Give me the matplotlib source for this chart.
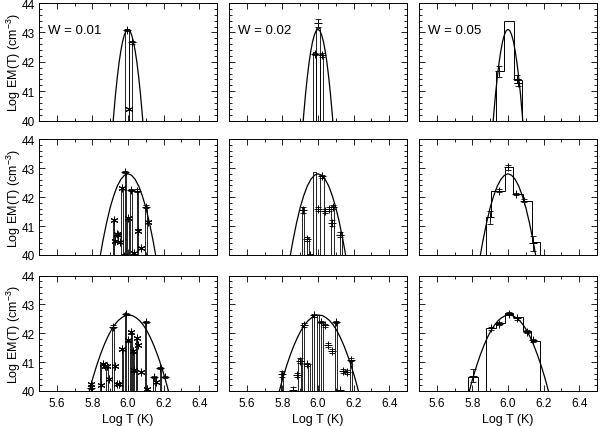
import numpy as np
import matplotlib.pyplot as plt

plt.rcParams['font.family'] = ['Liberation Sans', 'DejaVu Sans']
plt.rcParams['mathtext.default'] = 'regular'

# --- model curve of each row ---
row1_T = [5.917, 5.92, 5.93, 5.94, 5.95, 5.96, 5.97, 5.98, 5.99, 6.00,
          6.01, 6.02, 6.03, 6.04, 6.05, 6.06, 6.07, 6.08, 6.083]
row1_em = [40.00, 40.22, 40.90, 41.48, 41.98, 42.38, 42.70, 42.92, 43.06, 43.10,
           43.06, 42.92, 42.70, 42.38, 41.98, 41.48, 40.90, 40.22, 40.00]
row2_T = [5.845, 5.85, 5.86, 5.88, 5.90, 5.92, 5.94, 5.96, 5.98, 6.00,
          6.02, 6.04, 6.06, 6.08, 6.10, 6.12, 6.14, 6.15, 6.155]
row2_em = [40.00, 40.18, 40.52, 41.12, 41.64, 42.05, 42.38, 42.61, 42.75, 42.80,
           42.75, 42.61, 42.38, 42.05, 41.64, 41.12, 40.52, 40.18, 40.00]
row3_T = [5.783, 5.795, 5.805, 5.825, 5.845, 5.865, 5.885, 5.905, 5.925, 5.945,
          5.965, 5.985, 6.005, 6.025, 6.045, 6.065, 6.085, 6.105, 6.125, 6.145,
          6.165, 6.185, 6.205, 6.215, 6.227]
row3_em = [40.00, 40.28, 40.50, 40.90, 41.26, 41.58, 41.86, 42.10, 42.29, 42.44,
           42.54, 42.61, 42.63, 42.61, 42.54, 42.44, 42.29, 42.10, 41.86, 41.58,
           41.26, 40.90, 40.50, 40.28, 40.00]

w_labels = ['W = 0.01', 'W = 0.02', 'W = 0.05']
xtick_vals = [5.6, 5.8, 6.0, 6.2, 6.4]
ytick_vals = [40, 41, 42, 43, 44]
left_err = 0.04

# --- left column: thin bins, '+' and '*' points ---
p11_bin_T = [5.993, 6.013]
p11_bin_em = [43.10, 42.66]
p11_bin_w = 0.02
p11_plus_T = [5.993, 6.025]
p11_plus_em = [43.08, 42.66]
p11_star_T = [6.007]
p11_star_em = [40.39]

p21_bin_T = [5.918, 5.967, 5.985, 6.000, 6.018, 6.052, 6.100]
p21_bin_em = [41.22, 42.32, 42.88, 41.28, 42.25, 42.22, 41.68]
p21_bin_w = 0.008
p21_plus_T = [5.985, 5.980, 6.017, 6.049, 6.099]
p21_plus_em = [42.87, 39.98, 42.25, 42.22, 41.67]
p21_star_T = [5.921, 5.927, 5.937, 5.946, 5.955, 5.967, 5.998, 6.036, 6.058, 6.073, 6.112]
p21_star_em = [41.21, 40.49, 40.72, 40.68, 40.46, 42.30, 41.28, 40.06, 40.84, 40.23, 41.13]

p31_bin_T = [5.794, 5.846, 5.882, 5.915, 5.969, 5.986, 6.005, 6.020, 6.031, 6.048,
             6.097, 6.147, 6.181]
p31_bin_em = [40.30, 40.94, 40.86, 42.23, 41.46, 42.73, 41.75, 42.03, 41.36, 41.83,
              42.44, 40.48, 40.82]
p31_bin_w = 0.008
p31_plus_T = [5.792, 5.915, 5.988, 6.099, 6.146, 6.180, 6.208]
p31_plus_em = [40.12, 42.23, 42.67, 42.40, 40.48, 40.80, 40.48]
p31_star_T = [5.790, 5.848, 5.857, 5.870, 5.883, 5.894, 5.926, 5.940, 5.950, 5.968,
              5.998, 6.017, 6.030, 6.036, 6.049, 6.058, 6.073, 6.105, 6.155]
p31_star_em = [40.25, 40.21, 40.94, 40.86, 40.86, 40.42, 40.86, 40.25, 40.25, 41.46,
               41.75, 42.03, 41.37, 40.71, 41.83, 41.60, 40.65, 40.07, 40.31]

# --- middle column: bins and points with error bars ---
p12_bin_T = [5.98, 6.00, 6.02]
p12_bin_em = [42.32, 43.15, 42.28]
p12_bin_w = 0.02
p12_pt_T = [5.982, 6.000, 6.022]
p12_pt_em = [42.27, 43.32, 42.24]
p12_pt_err = [0.04, 0.12, 0.07]

p22_bin_T = [5.918, 5.943, 5.980, 6.020, 6.083, 6.128]
p22_bin_em = [41.64, 40.60, 42.85, 42.74, 41.70, 40.78]
p22_bin_w = [0.012, 0.010, 0.019, 0.022, 0.015, 0.010]
p22_pt_T = [5.917, 5.940, 5.957, 6.002, 6.020, 6.040, 6.060, 6.078, 6.083, 6.125]
p22_pt_em = [41.55, 40.55, 40.00, 41.60, 42.71, 41.52, 41.60, 41.10, 41.66, 40.70]
p22_pt_err = [0.10, 0.06, 0.03, 0.07, 0.05, 0.07, 0.07, 0.09, 0.06, 0.09]

p32_bin_T = [5.797, 5.864, 5.896, 5.918, 5.950, 5.974, 6.000, 6.022, 6.100, 6.115, 6.183]
p32_bin_em = [40.67, 40.05, 41.10, 42.35, 40.92, 42.62, 42.62, 42.38, 42.38, 40.02, 41.09]
p32_bin_w = 0.012
p32_pt_T = [5.800, 5.861, 5.880, 5.899, 5.921, 5.940, 5.978, 6.019, 6.038, 6.056,
            6.081, 6.101, 6.124, 6.142, 6.161, 6.183]
p32_pt_em = [40.58, 40.05, 40.56, 41.05, 42.29, 40.92, 42.62, 42.38, 42.27, 41.60,
             41.40, 42.38, 40.02, 40.70, 40.65, 41.09]
p32_pt_err = [0.10, 0.08, 0.08, 0.08, 0.08, 0.06, 0.04, 0.04, 0.05, 0.06,
              0.07, 0.04, 0.03, 0.06, 0.06, 0.04]

# --- right column: step histograms and points with error bars ---
p13_edges = [5.931, 5.979, 6.032, 6.080]
p13_em = [41.70, 43.38, 41.38]
p13_pt_T = [5.950, 6.050, 6.058]
p13_pt_em = [41.67, 41.42, 41.28]
p13_pt_err = [0.20, 0.13, 0.12]

p23_edges = [5.876, 5.903, 5.983, 6.030, 6.086, 6.133, 6.180]
p23_em = [41.30, 42.22, 43.02, 42.10, 41.87, 40.44]
p23_pt_T = [5.899, 5.951, 6.000, 6.046, 6.090, 6.140]
p23_pt_em = [41.30, 42.22, 43.02, 42.10, 41.87, 40.40]
p23_pt_err = [0.23, 0.05, 0.10, 0.04, 0.05, 0.26]

p33_edges = [5.777, 5.833, 5.876, 5.932, 5.983, 6.030, 6.082, 6.129, 6.180]
p33_em = [40.50, 40.00, 42.17, 42.35, 42.69, 42.55, 42.07, 41.74]
p33_pt_T = [5.805, 5.905, 5.948, 6.007, 6.050, 6.106, 6.143]
p33_pt_em = [40.53, 42.17, 42.33, 42.67, 42.52, 42.06, 41.76]
p33_pt_err = [0.23, 0.05, 0.05, 0.05, 0.05, 0.05, 0.05]


def bars(ax, T, em, w):
    ax.bar(T, np.array(em) - 40, width=w, bottom=40, fill=False,
           edgecolor='k', linewidth=0.6)


def steps(ax, edges, em):
    ax.stairs(em, edges, baseline=40, fill=False, color='k', linewidth=0.7)


def errpts(ax, T, em, err, marker='+'):
    ax.errorbar(T, em, yerr=err, fmt='none', ecolor='k', elinewidth=0.6,
                capsize=2.5, capthick=0.6)
    ax.plot(T, em, ls='none', marker=marker, ms=5.5, mew=0.7, color='k')


fig = plt.figure(figsize=(6, 4.27), dpi=100)
col_x = [39, 229, 419]
row_y = [(4, 121.5), (140, 256), (276.5, 392)]
curves = [(row1_T, row1_em), (row2_T, row2_em), (row3_T, row3_em)]
axs = []
for r, (yt, yb) in enumerate(row_y):
    row = []
    for c, x0 in enumerate(col_x):
        ax = fig.add_axes([x0 / 600, 1 - yb / 427, 178 / 600, (yb - yt) / 427])
        ax.set_xlim(5.5, 6.5)
        ax.set_ylim(40, 44)
        ax.set_xticks(xtick_vals)
        ax.set_xticks(np.arange(5.5, 6.51, 0.1), minor=True)
        ax.set_yticks(ytick_vals)
        ax.set_yticks(np.arange(40, 44.01, 0.2), minor=True)
        ax.tick_params(which='both', direction='in', top=True, right=True,
                       labelsize=8.5, width=0.6,
                       labelleft=(c == 0), labelbottom=(r == 2))
        ax.tick_params(which='major', length=4.5)
        ax.tick_params(which='minor', length=2.2)
        ax.tick_params(axis='x', pad=4.5)
        ax.tick_params(axis='y', pad=3)
        for s in ax.spines.values():
            s.set_linewidth(0.7)
        ax.plot(curves[r][0], curves[r][1], color='k', lw=0.9)
        if r == 0:
            ax.text(0.05, 0.773, w_labels[c], transform=ax.transAxes,
                    fontsize=9.5, va='center')
        row.append(ax)
    axs.append(row)

star = (6, 2, 0)

ax = axs[0][0]
bars(ax, p11_bin_T, p11_bin_em, p11_bin_w)
errpts(ax, p11_plus_T, p11_plus_em, left_err, '+')
errpts(ax, p11_star_T, p11_star_em, left_err, star)

ax = axs[1][0]
bars(ax, p21_bin_T, p21_bin_em, p21_bin_w)
errpts(ax, p21_plus_T, p21_plus_em, left_err, '+')
errpts(ax, p21_star_T, p21_star_em, left_err, star)

ax = axs[2][0]
bars(ax, p31_bin_T, p31_bin_em, p31_bin_w)
errpts(ax, p31_plus_T, p31_plus_em, left_err, '+')
errpts(ax, p31_star_T, p31_star_em, left_err, star)

bars(axs[0][1], p12_bin_T, p12_bin_em, p12_bin_w)
errpts(axs[0][1], p12_pt_T, p12_pt_em, p12_pt_err)
bars(axs[1][1], p22_bin_T, p22_bin_em, p22_bin_w)
errpts(axs[1][1], p22_pt_T, p22_pt_em, p22_pt_err)
bars(axs[2][1], p32_bin_T, p32_bin_em, p32_bin_w)
errpts(axs[2][1], p32_pt_T, p32_pt_em, p32_pt_err)

steps(axs[0][2], p13_edges, p13_em)
errpts(axs[0][2], p13_pt_T, p13_pt_em, p13_pt_err)
steps(axs[1][2], p23_edges, p23_em)
errpts(axs[1][2], p23_pt_T, p23_pt_em, p23_pt_err)
steps(axs[2][2], p33_edges, p33_em)
errpts(axs[2][2], p33_pt_T, p33_pt_em, p33_pt_err)

# axis titles
for (yt, yb) in row_y:
    fig.text(0.0225, 1 - (yt + yb) / 2 / 427, r'Log EM(T) (cm$^{-3}$)',
             rotation=90, ha='center', va='center', fontsize=9)
for x0 in col_x:
    fig.text((x0 + 89) / 600, 0.017, 'Log T (K)', ha='center', va='center',
             fontsize=9)

fig.savefig('out.png', dpi=100)
